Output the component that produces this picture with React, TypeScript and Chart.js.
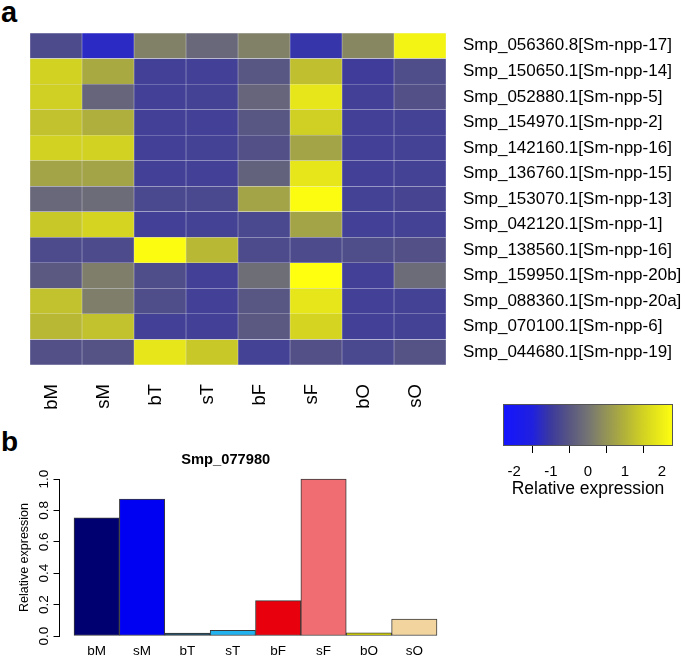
import React, { useEffect, useRef } from 'react';
import { Chart, registerables } from 'chart.js';

Chart.register(...registerables);

const FONT = "'Liberation Sans', Arial, Helvetica, sans-serif";

// ---------- Panel a: heatmap data ----------
const geneLabels = [
  'Smp_056360.8[Sm-npp-17]',
  'Smp_150650.1[Sm-npp-14]',
  'Smp_052880.1[Sm-npp-5]',
  'Smp_154970.1[Sm-npp-2]',
  'Smp_142160.1[Sm-npp-16]',
  'Smp_136760.1[Sm-npp-15]',
  'Smp_153070.1[Sm-npp-13]',
  'Smp_042120.1[Sm-npp-1]',
  'Smp_138560.1[Sm-npp-16]',
  'Smp_159950.1[Sm-npp-20b]',
  'Smp_088360.1[Sm-npp-20a]',
  'Smp_070100.1[Sm-npp-6]',
  'Smp_044680.1[Sm-npp-19]',
];

const sampleLabels = ['bM', 'sM', 'bT', 'sT', 'bF', 'sF', 'bO', 'sO'];

// relative expression (row z-score) per sample column, one value per gene row
const bM = [-0.7, 1.5, 1.45, 1.25, 1.5, 0.75, -0.2, 1.35, -0.7, -0.45, 1.25, 1.1, -0.6];
const sM = [-1.3, 0.85, -0.25, 0.95, 1.5, 0.75, -0.15, 1.55, -0.7, 0.15, 0.15, 1.25, -0.55];
const bT = [0.2, -0.9, -0.9, -0.9, -0.9, -0.9, -0.75, -0.9, 2.25, -0.65, -0.65, -0.9, 1.85];
const sT = [-0.2, -0.9, -0.85, -0.9, -0.85, -0.9, -0.75, -0.85, 1.1, -0.9, -0.9, -0.9, 1.35];
const bF = [0.2, -0.5, -0.25, -0.5, -0.6, -0.3, 0.75, -0.75, -0.7, -0.1, -0.5, -0.45, -0.85];
const sF = [-1.1, 1.2, 1.85, 1.45, 0.75, 1.85, 2.25, 0.75, -0.7, 2.3, 1.85, 1.55, -0.6];
const bO = [0.3, -0.95, -0.9, -0.9, -0.9, -0.9, -0.85, -0.9, -0.65, -0.9, -0.9, -0.9, -0.75];
const sO = [2.1, -0.65, -0.6, -0.85, -0.85, -0.85, -0.8, -0.85, -0.6, -0.15, -0.85, -0.85, -0.55];
const heatColumns = [bM, sM, bT, sT, bF, sF, bO, sO];

// colour key
const keyMin = -2.3;
const keyMax = 2.3;
const keyTicks = [-2, -1, 0, 1, 2];
const keyStops = [-2.3, -1.5, -1.0, -0.5, 0, 0.5, 1.0, 1.5, 2.3];
const keyColors = [
  [20, 20, 255],
  [32, 32, 222],
  [60, 58, 156],
  [88, 86, 130],
  [116, 116, 116],
  [148, 148, 86],
  [178, 178, 58],
  [210, 210, 34],
  [255, 255, 16],
];

// ---------- Panel b: bar data ----------
const barTitle = 'Smp_077980';
const barLabels = ['bM', 'sM', 'bT', 'sT', 'bF', 'sF', 'bO', 'sO'];
const barValues = [0.753, 0.873, 0.018, 0.036, 0.225, 1.0, 0.02, 0.108];
const barColors = ['#000070', '#0000f2', '#1a4a64', '#22b2ee', '#e8000c', '#f06e72', '#f0f000', '#f2d59e'];
const barYTicks = [0, 0.2, 0.4, 0.6, 0.8, 1.0];

function rgbStr(c: number[]) {
  return `rgb(${Math.round(c[0])},${Math.round(c[1])},${Math.round(c[2])})`;
}

function colorFor(v: number) {
  if (v <= keyStops[0]) return rgbStr(keyColors[0]);
  for (let i = 1; i < keyStops.length; i++) {
    if (v <= keyStops[i]) {
      const t = (v - keyStops[i - 1]) / (keyStops[i] - keyStops[i - 1]);
      const a = keyColors[i - 1];
      const b = keyColors[i];
      return rgbStr([a[0] + (b[0] - a[0]) * t, a[1] + (b[1] - a[1]) * t, a[2] + (b[2] - a[2]) * t]);
    }
  }
  return rgbStr(keyColors[keyColors.length - 1]);
}

const keyGradientPlugin = {
  id: 'keyGradient',
  beforeDatasetsDraw(chart: any) {
    const { ctx, chartArea: a, scales } = chart;
    const x = scales.x;
    const g = ctx.createLinearGradient(a.left, 0, a.right, 0);
    keyStops.forEach((s, i) => {
      const p = (x.getPixelForValue(s) - a.left) / (a.right - a.left);
      g.addColorStop(Math.min(1, Math.max(0, p)), rgbStr(keyColors[i]));
    });
    ctx.save();
    ctx.fillStyle = g;
    ctx.fillRect(a.left, a.top, a.right - a.left, a.bottom - a.top);
    ctx.strokeStyle = '#555';
    ctx.lineWidth = 1;
    ctx.strokeRect(a.left + 0.5, a.top + 0.5, a.right - a.left - 1, a.bottom - a.top - 1);
    ctx.restore();
  },
};

const rAxisPlugin = {
  id: 'rAxis',
  afterDraw(chart: any) {
    const { ctx, scales } = chart;
    const y = scales.y;
    const x = Math.round(y.right) - 0.5;
    ctx.save();
    ctx.strokeStyle = '#000';
    ctx.lineWidth = 1;
    ctx.beginPath();
    ctx.moveTo(x, y.getPixelForValue(barYTicks[0]));
    ctx.lineTo(x, y.getPixelForValue(barYTicks[barYTicks.length - 1]));
    ctx.stroke();
    ctx.restore();
  },
};

export default function App() {
  const heatRef = useRef<HTMLCanvasElement | null>(null);
  const keyRef = useRef<HTMLCanvasElement | null>(null);
  const barRef = useRef<HTMLCanvasElement | null>(null);

  useEffect(() => {
    const charts: Chart[] = [];

    // Heatmap
    charts.push(
      new Chart(heatRef.current as HTMLCanvasElement, {
        type: 'bar',
        data: {
          labels: geneLabels,
          datasets: heatColumns.map((col, j) => ({
            label: sampleLabels[j],
            data: col.map(() => [j, j + 1]),
            backgroundColor: col.map((v) => colorFor(v)),
            borderColor: 'rgba(200,200,230,0.3)',
            borderWidth: 0.5,
            borderSkipped: false,
            barPercentage: 1,
            categoryPercentage: 1,
            grouped: false,
          })) as any,
        },
        options: {
          indexAxis: 'y',
          animation: false,
          responsive: false,
          maintainAspectRatio: false,
          events: [],
          layout: { padding: { left: 30, top: 33, right: 0, bottom: 0 } },
          plugins: { legend: { display: false }, tooltip: { enabled: false }, title: { display: false } },
          scales: {
            x: {
              type: 'linear',
              min: 0,
              max: 8,
              offset: false,
              position: 'bottom',
              grid: { display: false, drawTicks: false },
              border: { display: false },
              afterBuildTicks: (ax: any) => {
                ax.ticks = sampleLabels.map((_, j) => ({ value: j + 0.5 }));
              },
              afterFit: (ax: any) => {
                ax.height = 55;
              },
              ticks: {
                autoSkip: false,
                minRotation: 90,
                maxRotation: 90,
                padding: 19,
                labelOffset: -4,
                color: '#000',
                font: { family: FONT, size: 18.5 },
                callback: (_v: any, i: number) => sampleLabels[i],
              },
            },
            y: {
              type: 'category',
              position: 'right',
              offset: true,
              grid: { display: false, drawTicks: false },
              border: { display: false },
              afterFit: (ax: any) => {
                ax.width = 239;
              },
              ticks: {
                autoSkip: false,
                padding: 17,
                color: '#000',
                font: { family: FONT, size: 17 },
              },
            },
          } as any,
        },
      })
    );

    // Colour key
    charts.push(
      new Chart(keyRef.current as HTMLCanvasElement, {
        type: 'bar',
        data: { labels: [], datasets: [] },
        options: {
          animation: false,
          responsive: false,
          maintainAspectRatio: false,
          events: [],
          layout: { padding: { left: 33, right: 12, top: 9, bottom: 0 } },
          plugins: { legend: { display: false }, tooltip: { enabled: false } },
          scales: {
            x: {
              type: 'linear',
              min: keyMin,
              max: keyMax,
              offset: false,
              position: 'bottom',
              afterBuildTicks: (ax: any) => {
                ax.ticks = keyTicks.map((v) => ({ value: v }));
              },
              afterFit: (ax: any) => {
                ax.height = 59;
              },
              grid: { display: true, drawOnChartArea: false, drawTicks: true, tickLength: 7, color: '#000', lineWidth: 1 },
              border: { display: false },
              ticks: {
                autoSkip: false,
                maxRotation: 0,
                padding: 10,
                color: '#000',
                font: { family: FONT, size: 15 },
                callback: (v: any) => String(v),
              },
              title: {
                display: true,
                text: 'Relative expression',
                color: '#000',
                font: { family: FONT, size: 17.5 },
                padding: { top: 0, bottom: 5.5 },
              },
            },
            y: { display: false, min: 0, max: 1 },
          } as any,
        },
        plugins: [keyGradientPlugin],
      })
    );

    // Bar chart
    charts.push(
      new Chart(barRef.current as HTMLCanvasElement, {
        type: 'bar',
        data: {
          datasets: [
            {
              data: barValues.map((v, i) => ({ x: i + 0.5, y: v })),
              backgroundColor: barColors,
              borderColor: '#3a3a3a',
              borderWidth: 1,
              borderSkipped: false,
              barPercentage: 1,
              categoryPercentage: 1,
            },
          ] as any,
        },
        options: {
          animation: false,
          responsive: false,
          maintainAspectRatio: false,
          events: [],
          layout: { padding: { left: 0, right: 18.5, top: 0, bottom: 0 } },
          plugins: {
            legend: { display: false },
            tooltip: { enabled: false },
            title: {
              display: true,
              text: barTitle,
              color: '#000',
              font: { family: FONT, size: 14.7, weight: 'bold' },
              padding: { top: 11.2, bottom: 3.9 },
            },
          },
          scales: {
            x: {
              type: 'linear',
              min: -0.32,
              max: 8.32,
              offset: false,
              grid: { display: false, drawTicks: false },
              border: { display: false },
              afterBuildTicks: (ax: any) => {
                ax.ticks = barLabels.map((_, i) => ({ value: i + 0.5 }));
              },
              afterFit: (ax: any) => {
                ax.height = 18.7;
              },
              ticks: {
                autoSkip: false,
                minRotation: 0,
                maxRotation: 0,
                padding: 1,
                color: '#000',
                font: { family: FONT, size: 13.5 },
                callback: (_v: any, i: number) => barLabels[i],
              },
            },
            y: {
              type: 'linear',
              min: -0.04,
              max: 1.04,
              afterBuildTicks: (ax: any) => {
                ax.ticks = barYTicks.map((v) => ({ value: v }));
              },
              afterFit: (ax: any) => {
                ax.width = 59.5;
              },
              grid: { display: true, drawOnChartArea: false, drawTicks: true, tickLength: 6, color: '#000' },
              border: { display: false },
              ticks: {
                autoSkip: false,
                minRotation: 90,
                maxRotation: 90,
                crossAlign: 'center',
                padding: 0,
                color: '#000',
                font: { family: FONT, size: 13.5 },
                callback: (v: any) => Number(v).toFixed(1),
              },
              title: {
                display: true,
                text: 'Relative expression',
                color: '#000',
                font: { family: FONT, size: 12.5 },
                padding: { top: 17.5, bottom: 0 },
              },
            },
          } as any,
        },
        plugins: [rAxisPlugin],
      })
    );

    return () => {
      charts.forEach((c) => c.destroy());
    };
  }, []);

  const labelStyle: React.CSSProperties = {
    position: 'absolute',
    fontFamily: FONT,
    fontWeight: 'bold',
    lineHeight: 1,
    color: '#000',
    margin: 0,
  };

  return (
    <div style={{ position: 'fixed', left: 0, top: 0, width: 685, height: 661, background: '#fff', overflow: 'hidden' }}>
      <div style={{ ...labelStyle, left: 1, top: -2, fontSize: 29 }}>a</div>
      <div style={{ ...labelStyle, left: 1, top: 428, fontSize: 28 }}>b</div>
      <canvas
        ref={heatRef}
        width={685}
        height={420}
        style={{ position: 'absolute', left: 0, top: 0, width: 685, height: 420 }}
      />
      <canvas
        ref={keyRef}
        width={215}
        height={110}
        style={{ position: 'absolute', left: 470, top: 395, width: 215, height: 110 }}
      />
      <canvas
        ref={barRef}
        width={470}
        height={221}
        style={{ position: 'absolute', left: 0, top: 440, width: 470, height: 221 }}
      />
    </div>
  );
}
